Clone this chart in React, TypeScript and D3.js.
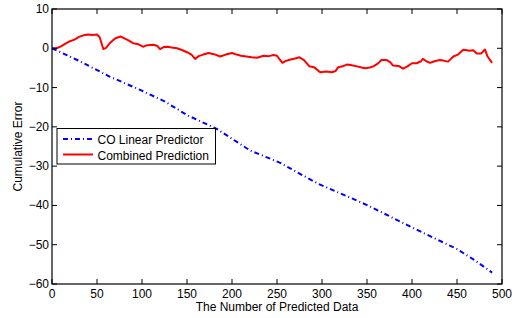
import React from 'react'
import * as d3 from 'd3'

const width = 519
const height = 318
const margin = { top: 9, right: 17, bottom: 34, left: 52 }

const xTicks = [0, 50, 100, 150, 200, 250, 300, 350, 400, 450, 500]
const yTicks = [10, 0, -10, -20, -30, -40, -50, -60]

// CO Linear Predictor (blue dash-dot)
const linearX = [0, 30, 64, 98, 125, 150, 183, 220, 253, 295, 350, 400, 450, 470, 489]
const linearY = [0, -3.2, -7.2, -10.6, -13.5, -17, -20.5, -26, -29.1, -34.4, -39.9, -45.6, -51.1, -54, -57.1]

// Combined Prediction (red solid)
const combinedX = [
    0, 5, 10, 15, 20, 25, 30, 35, 40, 45,
    50, 53, 57, 60, 65, 70, 76, 80, 85, 90,
    95, 101, 106, 113, 117, 120, 124, 128, 133, 139,
    145, 150, 155, 159, 163, 168, 174, 180, 187, 193,
    200, 205, 210, 216, 222, 228, 235, 241, 246, 250,
    253, 256, 260, 264, 270, 275, 280, 286, 291, 298,
    305, 311, 315, 318, 323, 328, 333, 339, 344, 348,
    353, 357, 362, 366, 372, 376, 379, 385, 390, 395,
    400, 405, 410, 412, 416, 420, 425, 431, 436, 440,
    446, 451, 457, 461, 464, 468, 472, 477, 481, 484,
    489,
]
const combinedY = [
    0, 0, 0.5, 1.2, 1.8, 2.2, 2.9, 3.3, 3.5, 3.4,
    3.5, 2.8, -0.2, 0.1, 1.5, 2.5, 3.0, 2.6, 2.0, 1.3,
    1.1, 0.4, 0.8, 0.9, 0.6, -0.2, 0.3, 0.4, 0.2, 0.0,
    -0.5, -1.0, -1.6, -2.7, -2.0, -1.6, -1.2, -1.5, -2.1, -1.6,
    -1.2, -1.6, -1.9, -2.1, -2.3, -2.4, -1.9, -2.0, -1.7, -1.9,
    -2.8, -3.7, -3.2, -2.9, -2.6, -2.3, -3.0, -4.6, -4.8, -6.1,
    -5.9, -6.1, -5.8, -4.8, -4.6, -4.1, -4.3, -4.6, -4.9, -5.1,
    -4.9, -4.6, -3.9, -3.0, -3.0, -3.6, -4.4, -4.5, -5.2, -4.6,
    -3.8, -3.8, -3.3, -2.7, -3.3, -3.7, -3.3, -3.0, -3.2, -3.4,
    -2.1, -1.6, -0.4, -0.5, -0.6, -0.5, -1.3, -1.3, -0.3, -2.1,
    -3.7,
]

const font = 'Liberation Sans, Arial, Helvetica, sans-serif'
const fmt = (v: number) => (v < 0 ? '\u2212' + Math.abs(v) : String(v))

export default function App() {
    const x = d3.scaleLinear().domain([0, 500]).range([margin.left, width - margin.right])
    const y = d3.scaleLinear().domain([-60, 10]).range([height - margin.bottom, margin.top])

    const line = d3
        .line<[number, number]>()
        .x((d) => x(d[0]))
        .y((d) => y(d[1]))

    const linearPath = line(linearX.map((v, i) => [v, linearY[i]]))
    const combinedPath = line(combinedX.map((v, i) => [v, combinedY[i]]))

    const [x0, x1] = x.range()
    const [y0, y1] = y.range()
    const tick = 5

    return (
        <svg
            width={width}
            height={height}
            style={{ position: 'absolute', left: 0, top: 0, background: '#fff' }}
            fontFamily={font}
            fontSize={12}
        >
            <rect x={0} y={0} width={width} height={height} fill="#fff" />
            <path d={combinedPath || ''} fill="none" stroke="#ff0000" strokeWidth={2} strokeLinejoin="round" />
            <path
                d={linearPath || ''}
                fill="none"
                stroke="#0000ff"
                strokeWidth={2}
                strokeDasharray="5,3,1,3"
            />

            {/* box + ticks */}
            <rect x={x0} y={y1} width={x1 - x0} height={y0 - y1} fill="none" stroke="#000" strokeWidth={1.2} />
            {xTicks.map((t) => (
                <g key={'x' + t}>
                    <line x1={x(t)} x2={x(t)} y1={y0} y2={y0 - tick} stroke="#000" />
                    <line x1={x(t)} x2={x(t)} y1={y1} y2={y1 + tick} stroke="#000" />
                    <text x={x(t)} y={y0 + 14} textAnchor="middle">
                        {t}
                    </text>
                </g>
            ))}
            {yTicks.map((t) => (
                <g key={'y' + t}>
                    <line x1={x0} x2={x0 + tick} y1={y(t)} y2={y(t)} stroke="#000" />
                    <line x1={x1} x2={x1 - tick} y1={y(t)} y2={y(t)} stroke="#000" />
                    <text x={x0 - 3} y={y(t) + 4} textAnchor="end">
                        {fmt(t)}
                    </text>
                </g>
            ))}

            <text x={(x0 + x1) / 2} y={311} textAnchor="middle">
                The Number of Predicted Data
            </text>
            <text transform={`translate(22,${(y0 + y1) / 2}) rotate(-90)`} textAnchor="middle">
                Cumulative Error
            </text>

            {/* legend */}
            <g>
                <rect x={57} y={128.5} width={158.5} height={35.5} fill="#fff" stroke="#000" strokeWidth={1} />
                <line x1={63} x2={93} y1={139} y2={139} stroke="#0000ff" strokeWidth={2} strokeDasharray="5,3,1,3" />
                <text x={97.5} y={143.5}>CO Linear Predictor</text>
                <line x1={63} x2={93} y1={154.5} y2={154.5} stroke="#ff0000" strokeWidth={2} />
                <text x={97.5} y={159.5}>Combined Prediction</text>
            </g>
        </svg>
    )
}
